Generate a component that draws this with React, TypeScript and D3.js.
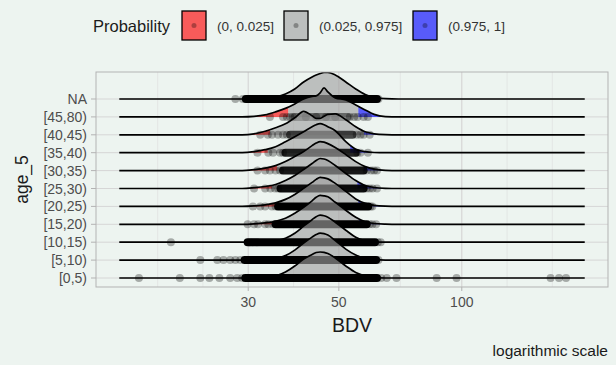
import * as d3 from 'd3';

// age groups, bottom row first
const ageGroups = ['[0,5)', '[5,10)', '[10,15)', '[15,20)', '[20,25)', '[25,30)', '[30,35)', '[35,40)', '[40,45)', '[45,80)', 'NA'];

const bdvGrid = [29, 31, 33, 35, 37, 39, 41, 43, 44, 45, 46, 47, 49, 52, 55, 58, 61, 65, 70];

// ridge heights (scaled density) per age group, on bdvGrid
const ridge0 = [0, 0, 0.3, 2, 6, 12, 19, 23.5, 25.5, 26, 25.7, 24.5, 20, 12, 5.5, 2, 0.5, 0, 0];
const ridge5 = [0, 0, 0.5, 1.5, 4.5, 10, 17, 23, 25.5, 27, 26.5, 25, 19.5, 11, 5, 1.5, 0.4, 0, 0];
const ridge10 = [0, 0, 0.5, 1.5, 4, 9, 16, 22.5, 25.5, 27, 26.5, 25, 20, 12, 5, 1.5, 0.4, 0, 0];
const ridge15 = [0, 0.5, 1.5, 3, 6, 11, 17, 23.5, 27, 29, 28.5, 27.5, 22, 14, 7, 2.5, 0.8, 0.2, 0];
const ridge20 = [0, 0.5, 1.5, 3.5, 7, 12, 18, 24, 27, 29, 28.5, 27.5, 23, 15, 7.5, 3, 1, 0.2, 0];
const ridge25 = [0, 0.8, 2, 4, 8, 13, 19, 25, 28, 30, 29.5, 28, 23, 15, 8, 3, 1, 0.2, 0];
const ridge30 = [0, 1, 2.5, 5, 9, 14, 19, 25, 27.5, 29, 28.5, 27, 23, 16, 9, 4, 1.5, 0.3, 0];
const ridge35 = [0, 1, 3, 6, 11, 16, 21, 26, 28, 29, 28, 26, 22, 11, 3.5, 1, 0.2, 0, 0];
const ridge40 = [0, 1, 3.5, 7, 11, 17, 23.5, 19, 16.5, 16.5, 18.5, 20.5, 21, 15, 8, 3, 1, 0.2, 0];
const ridge45 = [0, 0.5, 2, 5, 8.5, 13, 18, 20.5, 21, 24, 29, 25, 19, 17, 12, 7, 2.5, 0.3, 0];
const ridgeNA = [0, 0, 0.3, 2, 5, 10, 17, 22, 24, 25.5, 26.5, 26.5, 24, 17, 10, 4.5, 1.5, 0.3, 0];
const ridges = [ridge0, ridge5, ridge10, ridge15, ridge20, ridge25, ridge30, ridge35, ridge40, ridge45, ridgeNA];

// full data range of BDV (density is estimated over it)
const bdvRange = [14.5, 200];

// 2.5% and 97.5% quantiles per group
const qLow = [34.5, 34.5, 34.5, 35.2, 35.5, 34.3, 35.3, 33.5, 33.9, 37.6, 32.5];
const qHigh = [58, 58, 58, 56, 55.8, 55.5, 57.6, 53.3, 57.6, 55.8, 64];

// dense stretch of overlapping points per group
const coreLow = [29.5, 29.4, 29.9, 35, 35.5, 36, 36.5, 37, 38, 39, 29.6];
const coreHigh = [62, 61.7, 61.3, 58.5, 59, 57.5, 57.5, 55, 54, 52.5, 62];
const coreAlpha = [1, 1, 1, 1, 1, 0.95, 0.9, 0.85, 0.7, 0.45, 1];

// single points outside the dense stretch
const pts0 = [16.2, 20.4, 22.9, 24.1, 25.5, 27.1, 28.2, 29.0, 63.5, 65.5, 69.2, 86.8, 97.1, 165, 173, 180];
const pts5 = [22.9, 25.2, 26.1, 27.1, 27.9, 28.7, 62.5];
const pts10 = [19.4, 30.2, 30.8, 31.5, 62.3, 63.3];
const pts15 = [29.9, 31.0, 31.7, 33.0, 33.6, 34.5, 59.5, 60.4, 61.7];
const pts20 = [30.8, 32.1, 33.0, 34.3, 35.0, 59.8, 60.4];
const pts25 = [31.0, 33.0, 34.0, 34.9, 35.5, 58.5, 59.5, 60.5, 62.0];
const pts30 = [31.6, 33.0, 33.9, 35.0, 35.9, 58.5, 60.0, 61.0, 62.0];
const pts35 = [31.6, 33.6, 34.5, 35.9, 36.5, 55.5, 56.5, 58.9];
const pts40 = [32.1, 33.5, 34.3, 35.5, 36.5, 37.3, 55.3, 56.5, 57.5, 59.5];
const pts45 = [33.9, 36.5, 37.3, 38.0, 38.6, 41.5, 44.0, 46.5, 49.0, 53.2, 54.5, 55.6, 57.5, 58.9];
const ptsNA = [27.9, 29.1, 62.5];
const points = [pts0, pts5, pts10, pts15, pts20, pts25, pts30, pts35, pts40, pts45, ptsNA];

const xTicks = [30, 50, 100];
const probLabels = ['(0, 0.025]', '(0.025, 0.975]', '(0.975, 1]'];
const probColors = ['#FF0000', '#A0A0A0', '#0000FF'];

const W = 616;
const H = 365;
const BG = '#edf4f0';
const FONT = '"Liberation Sans", Arial, Helvetica, sans-serif';
const panel = { left: 96, right: 608, top: 72, bottom: 287 };
const FILL_ALPHA = 160 / 255;

function minorBreaks(major: number[], limits: number[]) {
  const b = major.map(Math.log10);
  const bd = b[1] - b[0];
  const lim = limits.map(Math.log10);
  if (lim[0] < b[0]) b.unshift(b[0] - bd);
  if (lim[1] > b[b.length - 1]) b.push(b[b.length - 1] + bd);
  const out: number[] = [];
  for (let i = 0; i < b.length - 1; i++) out.push(b[i], (b[i] + b[i + 1]) / 2);
  out.push(b[b.length - 1]);
  return out.filter((t) => t >= lim[0] && t <= lim[1]).map((t) => 10 ** t);
}

export default function App() {
  const lo = Math.log10(bdvRange[0]);
  const hi = Math.log10(bdvRange[1]);
  const pad = (hi - lo) * 0.05;
  const xDomain = [10 ** (lo - pad), 10 ** (hi + pad)];
  const x = d3.scaleLog().domain(xDomain).range([panel.left, panel.right]);
  const y = d3.scalePoint().domain(ageGroups).range([panel.bottom - 9, panel.top + 27]);
  const h = d3.scaleLinear().domain([0, 30]).range([0, 30]);
  const minors = minorBreaks(xTicks, xDomain);

  const rows = ageGroups.map((g, i) => {
    const base = y(g)!;
    const pts: [number, number][] = [[bdvRange[0], 0], ...bdvGrid.map((v, j) => [v, ridges[i][j]] as [number, number]), [bdvRange[1], 0]];
    const area = d3.area<[number, number]>()
      .x((d) => x(d[0]))
      .y0(base)
      .y1((d) => base - h(d[1]))
      .curve(d3.curveMonotoneX)(pts)!;
    const line = d3.line<[number, number]>()
      .x((d) => x(d[0]))
      .y((d) => base - h(d[1]))
      .curve(d3.curveMonotoneX)(pts)!;
    return { g, i, base, area, line };
  }).reverse(); // top row drawn first, lower ridges in front

  const keyX = [182, 284, 413];

  return (
    <svg width={W} height={H} style={{ position: 'absolute', left: 0, top: 0 }} fontFamily={FONT}>
      <rect width={W} height={H} fill={BG} />
      <defs>
        {rows.map((r) => {
          const cuts = [panel.left, x(qLow[r.i]), x(qHigh[r.i]), panel.right];
          return [0, 1, 2].map((k) => (
            <clipPath key={`c${r.i}-${k}`} id={`clip-${r.i}-${k}`}>
              <rect x={cuts[k]} y={0} width={cuts[k + 1] - cuts[k]} height={H} />
            </clipPath>
          ));
        })}
        <clipPath id="panel-clip">
          <rect x={panel.left} y={panel.top} width={panel.right - panel.left} height={panel.bottom - panel.top} />
        </clipPath>
      </defs>

      {/* grid */}
      {minors.map((v, k) => (
        <line key={`mn${k}`} x1={x(v)} x2={x(v)} y1={panel.top} y2={panel.bottom} stroke="#dedede" strokeWidth={0.6} />
      ))}
      {xTicks.map((v) => (
        <line key={`mj${v}`} x1={x(v)} x2={x(v)} y1={panel.top} y2={panel.bottom} stroke="#d6d6d6" strokeWidth={1} />
      ))}
      {ageGroups.map((g) => (
        <line key={`hg${g}`} x1={panel.left} x2={panel.right} y1={y(g)} y2={y(g)} stroke="#d6d6d6" strokeWidth={1} />
      ))}

      {/* ridges */}
      <g clipPath="url(#panel-clip)">
        {rows.map((r) => (
          <g key={r.g}>
            {[0, 1, 2].map((k) => (
              <path key={k} d={r.area} fill={probColors[k]} fillOpacity={FILL_ALPHA} clipPath={`url(#clip-${r.i}-${k})`} />
            ))}
            <rect
              x={x(coreLow[r.i]) - 4}
              y={r.base - 4}
              width={x(coreHigh[r.i]) - x(coreLow[r.i]) + 8}
              height={8}
              rx={4}
              fill="#000"
              fillOpacity={coreAlpha[r.i]}
            />
            {points[r.i].map((v, k) => (
              <circle key={k} cx={x(v)} cy={r.base} r={4} fill="#000" fillOpacity={0.3} />
            ))}
            <path d={r.line} fill="none" stroke="#000" strokeWidth={1.7} strokeLinejoin="round" />
          </g>
        ))}
      </g>

      {/* panel border */}
      <rect x={panel.left} y={panel.top} width={panel.right - panel.left} height={panel.bottom - panel.top} fill="none" stroke="#b3b3b3" strokeWidth={1} />

      {/* x axis */}
      {xTicks.map((v) => (
        <g key={`xt${v}`}>
          <line x1={x(v)} x2={x(v)} y1={panel.bottom} y2={panel.bottom + 4} stroke="#b3b3b3" />
          <text x={x(v)} y={panel.bottom + 20} textAnchor="middle" fontSize={14} fill="#4d4d4d">{v}</text>
        </g>
      ))}
      <text x={(panel.left + panel.right) / 2} y={332} textAnchor="middle" fontSize={19.5} fill="#1a1a1a">BDV</text>

      {/* y axis */}
      {ageGroups.map((g) => (
        <g key={`yt${g}`}>
          <line x1={panel.left - 5} x2={panel.left} y1={y(g)} y2={y(g)} stroke="#b3b3b3" />
          <text x={panel.left - 9} y={y(g)} dy="0.36em" textAnchor="end" fontSize={14} fill="#4d4d4d">{g}</text>
        </g>
      ))}
      <text transform={`translate(28,${(panel.top + panel.bottom) / 2}) rotate(-90)`} textAnchor="middle" fontSize={17.5} fill="#1a1a1a">age_5</text>

      {/* legend */}
      <text x={93} y={32} fontSize={16.5} fill="#1a1a1a">Probability</text>
      {probLabels.map((lab, k) => (
        <g key={lab}>
          <rect x={keyX[k]} y={11} width={24} height={29} fill={BG} />
          <rect x={keyX[k]} y={11} width={24} height={29} fill={probColors[k]} fillOpacity={FILL_ALPHA} stroke="#000" strokeWidth={1.3} />
          <circle cx={keyX[k] + 12} cy={25.5} r={2.5} fill="#000" fillOpacity={0.3} />
          <text x={keyX[k] + 35} y={31} fontSize={13.5} fill="#333">{lab}</text>
        </g>
      ))}

      {/* caption */}
      <text x={608} y={356} textAnchor="end" fontSize={15.5} fill="#1a1a1a">logarithmic scale</text>
    </svg>
  );
}
